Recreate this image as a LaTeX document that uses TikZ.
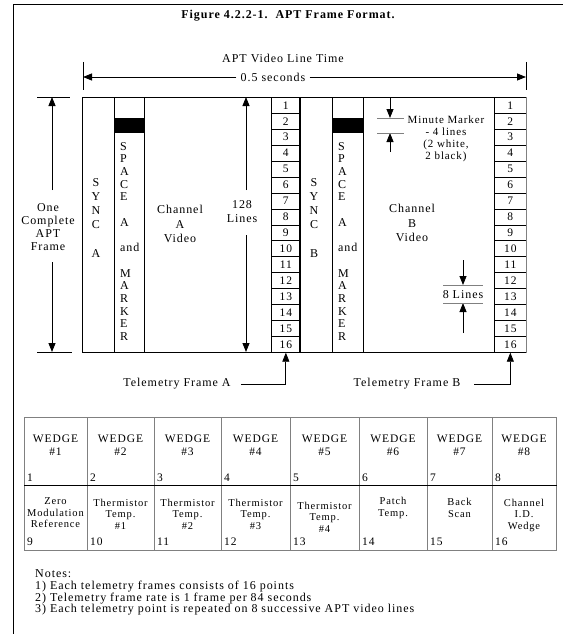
\documentclass[tikz,border=0pt]{standalone}
\usepackage{fontspec}
\setmainfont{Liberation Serif}[LetterSpace=8]
\usetikzlibrary{arrows.meta}
\begin{document}
\begin{tikzpicture}[x=1pt,y=-1pt,
  lbl/.style={inner sep=0pt, align=center, font=\fontsize{12}{13}\selectfont},
  small/.style={inner sep=0pt, align=center, font=\fontsize{10.5}{11.5}\selectfont},
  col/.style={draw=black, line width=0.9pt, inner sep=0pt, minimum height=255pt, anchor=north west},
  telrow/.style={draw=black, line width=0.7pt, inner sep=0pt, minimum width=29pt, minimum height=15.9375pt, anchor=north west, font=\fontsize{11.5}{13}\selectfont},
  arr/.style={line width=0.8pt, -{Triangle[length=9pt,width=7pt]}},
  ln/.style={line width=0.8pt},
  cell/.style={draw=gray, line width=1.2pt, inner sep=0pt, anchor=north west},
  blk/.style={fill=black, inner sep=0pt, minimum height=15pt, anchor=north west},
]
\useasboundingbox (0,0) rectangle (563,634);
\fill[white] (0,0) rectangle (563,634);
% outer border
\coordinate (bTL) at (13,5);
\coordinate (bTR) at (563,5);
\coordinate (bBL) at (13,634);
\draw[line width=1pt] (bBL) -- (bTL) -- (bTR);

\node[lbl, font={\fontsize{12}{13}\selectfont\bfseries}] (title) at (288,16) {Figure 4.2.2-1.~~APT Frame Format.};

% line time
\node[lbl] (lt) at (283,58) {APT Video Line Time};
\coordinate (tl1) at (83,62); \coordinate (tl2) at (83,90);
\coordinate (tr1) at (526,62); \coordinate (tr2) at (526,90);
\draw[ln] (tl1) -- (tl2); \draw[ln] (tr1) -- (tr2);
\node[lbl, inner xsep=4pt] (sec) at (273,77) {0.5 seconds};
\coordinate (al) at (83,77); \coordinate (ar) at (526,77);
\draw[arr] (sec.west) -- (al);
\draw[arr] (sec.east) -- (ar);

% frame columns
\node[col, minimum width=32pt] (syncA) at (82,97) {};
\node[col, minimum width=30pt] (spA) at (114,97) {};
\node[col, minimum width=127pt] (chA) at (144,97) {};
\node[col, minimum width=32pt] (syncB) at (300,97) {};
\node[col, minimum width=31pt] (spB) at (332,97) {};
\node[col, minimum width=131pt] (chB) at (363,97) {};
\node[blk, minimum width=30pt] (mkA) at (114,118) {};
\node[blk, minimum width=31pt] (mkB) at (332,118) {};

\foreach \i in {1,...,16} {
  \node[telrow] (ta\i) at (271,{97+(\i-1)*15.9375}) {\i};
  \node[telrow, minimum width=32pt] (tb\i) at (494,{97+(\i-1)*15.9375}) {\i};
}
\draw[line width=2pt] (syncB.north west) -- (syncB.south west);
\draw[gray, line width=1.5pt] (tb1.north east) -- (tb16.south east);

% column texts
\node[lbl, anchor=north, font=\fontsize{12}{14.2}\selectfont] (syncAt) at (96,178) {S\\Y\\N\\C\\~\\A};
\node[lbl, anchor=north, font=\fontsize{12}{14.2}\selectfont] (syncBt) at (314,178) {S\\Y\\N\\C\\~\\B};
\node[lbl, align=left, anchor=north west, font=\fontsize{12}{12.7}\selectfont] (spAt) at (120,142) {S\\P\\A\\C\\E\\~\\A\\~\\and\\~\\M\\A\\R\\K\\E\\R};
\node[lbl, align=left, anchor=north west, font=\fontsize{12}{12.7}\selectfont] (spBt) at (338,142) {S\\P\\A\\C\\E\\~\\A\\~\\and\\~\\M\\A\\R\\K\\E\\R};
\node[lbl, font=\fontsize{12}{14.5}\selectfont] (chAt) at (180,224) {Channel\\A\\Video};
\node[lbl, font=\fontsize{12}{14.5}\selectfont] (chBt) at (412,223) {Channel\\B\\Video};

% 128 lines
\node[lbl, font=\fontsize{12}{14}\selectfont] (l128) at (242,212) {128\\Lines};
\coordinate (l128t) at (246,97); \coordinate (l128b) at (246,352);
\coordinate (l128u) at (246,190); \coordinate (l128d) at (246,235);
\draw[arr] (l128u) -- (l128t);
\draw[arr] (l128d) -- (l128b);

% one complete frame
\node[lbl, font=\fontsize{12}{13.2}\selectfont] (oca) at (48,227) {One\\Complete\\APT\\Frame};
\coordinate (ocT1) at (37,97); \coordinate (ocT2) at (70,97);
\coordinate (ocB1) at (37,352); \coordinate (ocB2) at (72,352);
\draw[ln] (ocT1) -- (ocT2); \draw[ln] (ocB1) -- (ocB2);
\coordinate (ocu) at (52,190); \coordinate (ocut) at (52,97);
\coordinate (ocd) at (52,262); \coordinate (ocdt) at (52,352);
\draw[arr] (ocu) -- (ocut);
\draw[arr] (ocd) -- (ocdt);

% minute marker
\coordinate (mm0) at (390,97); \coordinate (mm1) at (390,118);
\coordinate (mm2) at (390,133); \coordinate (mm3) at (390,152);
\coordinate (mmL1) at (377,118); \coordinate (mmR1) at (404,118);
\coordinate (mmL2) at (377,133); \coordinate (mmR2) at (404,133);
\draw[arr] (mm0) -- (mm1);
\draw[arr] (mm3) -- (mm2);
\draw[ln, gray] (mmL1) -- (mmR1);
\draw[ln, gray] (mmL2) -- (mmR2);
\node[lbl, font=\fontsize{11}{12}\selectfont] (mmt) at (446,139) {Minute Marker\\- 4 lines\\(2 white,\\2 black)};

% 8 lines
\coordinate (e0) at (463,260); \coordinate (e1) at (463,285);
\coordinate (e2) at (463,303); \coordinate (e3) at (463,333);
\coordinate (eL1) at (443,285); \coordinate (eR1) at (483,285);
\coordinate (eL2) at (443,303); \coordinate (eR2) at (483,303);
\draw[arr] (e0) -- (e1);
\draw[arr] (e3) -- (e2);
\draw[ln, gray] (eL1) -- (eR1);
\draw[ln, gray] (eL2) -- (eR2);
\node[lbl] (elt) at (463,295) {8 Lines};

% telemetry frame labels
\node[lbl] (tfa) at (177,384) {Telemetry Frame A};
\node[lbl] (tfb) at (407,384) {Telemetry Frame B};
\draw[arr] ([xshift=10pt]tfa.east) -| (ta16.south);
\draw[arr] ([xshift=14pt]tfb.east) -| (tb16.south);

% table
\foreach \xa/\xb [count=\i] in {24/87,87/154,154/221,221/290,290/359,359/427,427/492,492/556} {
  \pgfmathtruncatemacro\j{\i+8}
  \node[cell, minimum width={\xb-\xa}, minimum height=68pt] (c\i) at (\xa,417) {};
  \node[cell, minimum width={\xb-\xa}, minimum height=65pt] (c\j) at (\xa,485) {};
  \node[lbl, font=\fontsize{11.5}{13}\selectfont] (w\i) at ({(\xa+\xb)/2},445) {WEDGE\\\#\i};
  \node[lbl, anchor=base west, font=\fontsize{11.5}{13}\selectfont] (n\i) at (\xa+3,481) {\i};
  \node[lbl, anchor=base west, font=\fontsize{11.5}{13}\selectfont] (n\j) at (\xa+3,545) {\j};
}
\draw[line width=0.8pt] (c9.north west) -- (c16.north east);
\node[small] (t9) at ({(24+87)/2},513) {Zero\\Modulation\\Reference};
\node[small] (t10) at ({(87+154)/2},514) {Thermistor\\Temp.\\\#1};
\node[small] (t11) at ({(154+221)/2},514) {Thermistor\\Temp.\\\#2};
\node[small] (t12) at ({(221+290)/2},514) {Thermistor\\Temp.\\\#3};
\node[small] (t13) at ({(290+359)/2},517) {Thermistor\\Temp.\\\#4};
\node[small] (t14) at ({(359+427)/2},508) {Patch\\Temp.};
\node[small] (t15) at ({(427+492)/2},508) {Back\\Scan};
\node[small] (t16) at ({(492+556)/2},515) {Channel\\I.D.\\Wedge};

% notes
\node[lbl, align=left, anchor=north west, font=\fontsize{12}{11.8}\selectfont] (notes) at (35,569.5) {Notes:\\1) Each telemetry frames consists of 16 points\\2) Telemetry frame rate is 1 frame per 84 seconds\\3) Each telemetry point is repeated on 8 successive APT video lines};
\end{tikzpicture}
\end{document}
